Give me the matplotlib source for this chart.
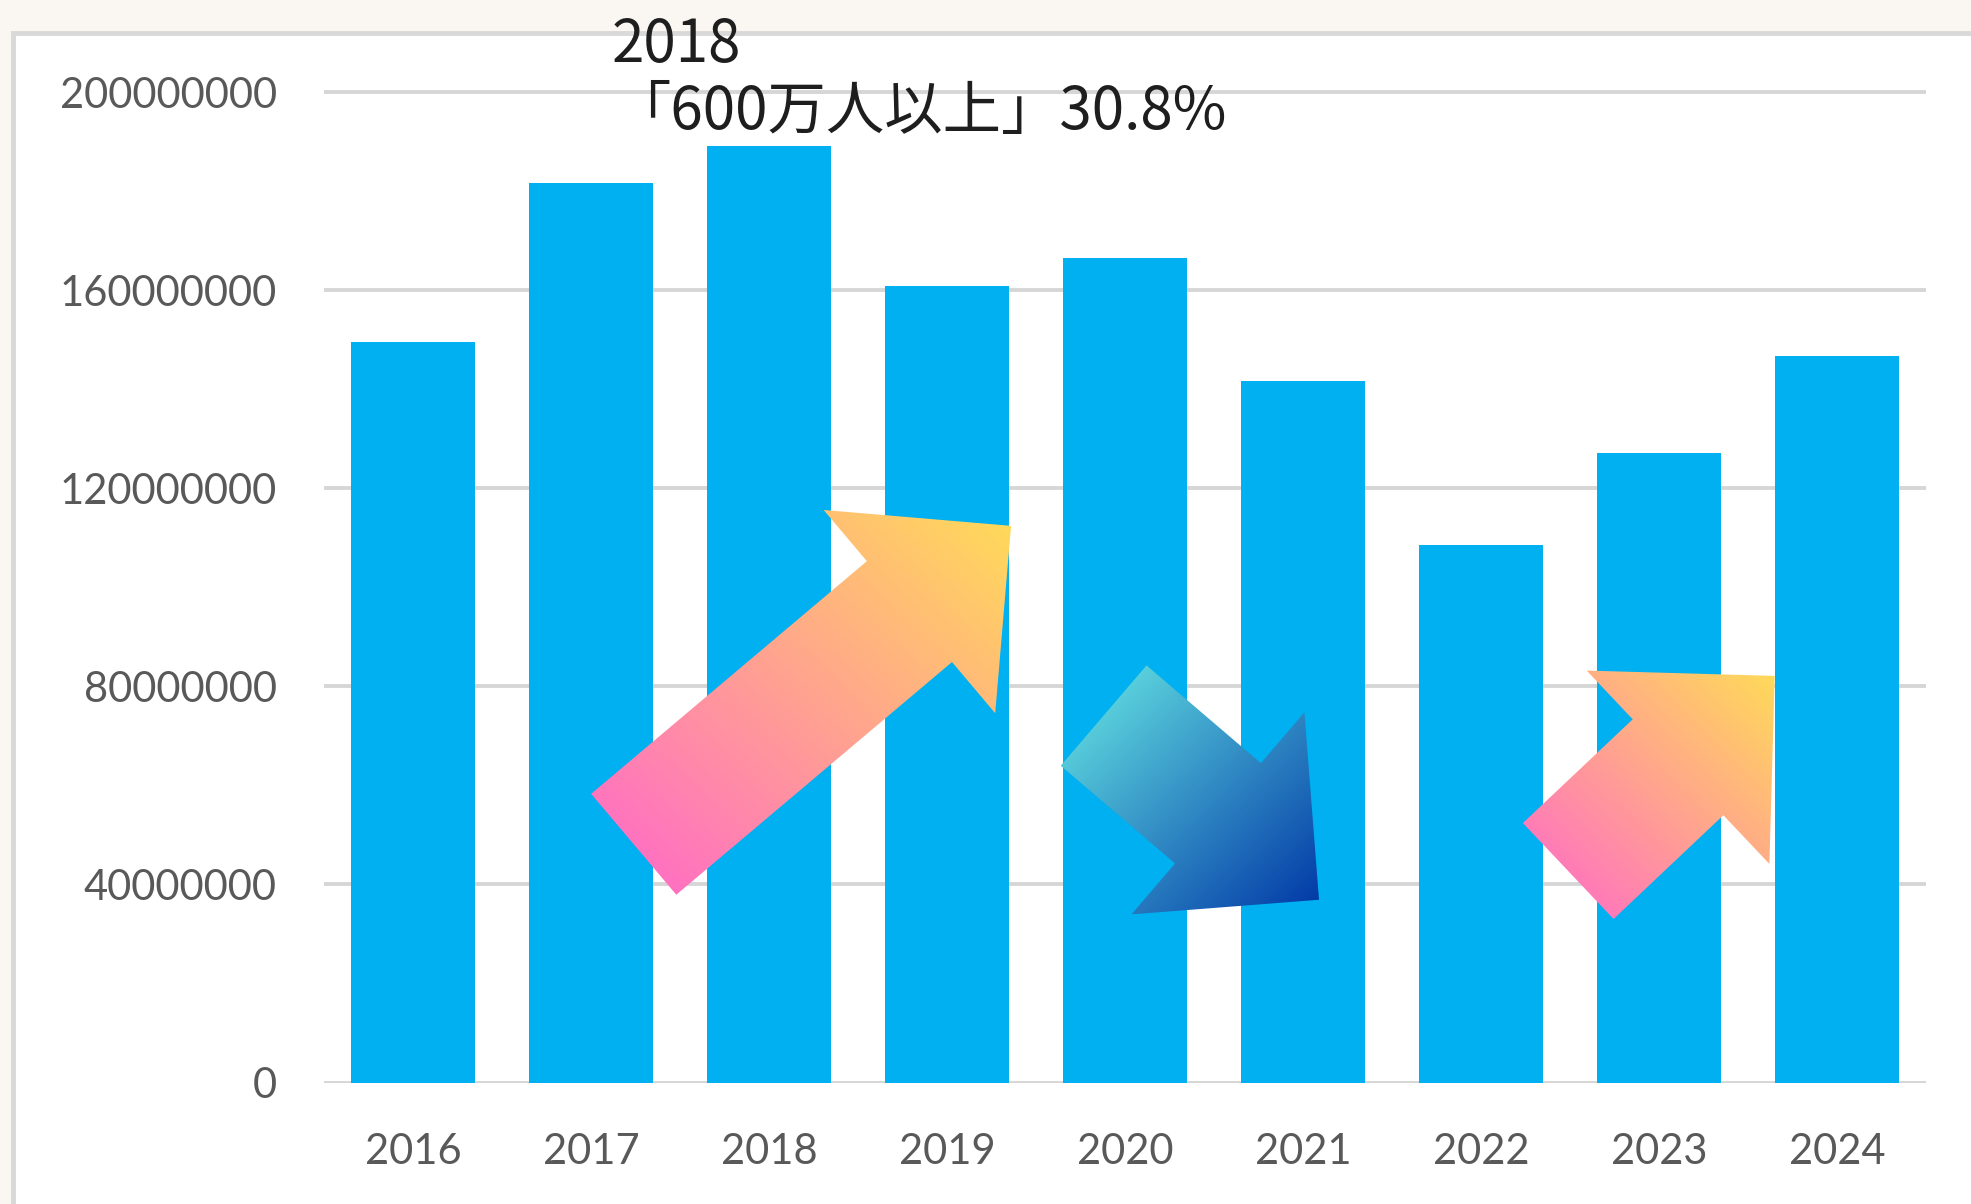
import numpy as np
import matplotlib
matplotlib.use('Agg')
import matplotlib.pyplot as plt
from matplotlib.patches import Rectangle, Polygon
from matplotlib.colors import LinearSegmentedColormap

# datos del grafico
years = ['2016', '2017', '2018', '2019', '2020', '2021', '2022', '2023', '2024']
values = [149.5e6, 181.7e6, 189.1e6, 160.9e6, 166.5e6, 141.6e6, 108.6e6, 127.2e6, 146.7e6]
yticks = [0, 40000000, 80000000, 120000000, 160000000, 200000000]
title = '2018\n「600万人以上」30.8%'

# flechas decorativas (cola y punta en coordenadas de datos)
arrow_tails = [(1.24, 48.1e6), (3.88, 74.1e6), (6.49, 42.7e6)]
arrow_tips = [(3.36, 112.4e6), (5.09, 36.9e6), (7.65, 82.1e6)]
arrow_colors = [('#FF66CC', '#FFDB58'), ('#6AEDE6', '#0036A6'), ('#FF66CC', '#FFDB58')]
arrow_dirs = ['up', 'down', 'up']

W, H = 1971, 1204
fig = plt.figure(figsize=(W / 100, H / 100), dpi=100)
fig.patch.set_facecolor('#FAF7F2')

# panel blanco con borde gris
fig.patches.append(Rectangle((13 / W, -0.1), 1.2, (H - 33) / H + 0.1, transform=fig.transFigure,
                             facecolor='white', edgecolor='#D9D9D9', linewidth=3.5, zorder=-1))

y0_px, px_per_m = 1082.5, 4.9525
ymax = 205e6
top_px = y0_px - ymax / 1e6 * px_per_m
ax = fig.add_axes([324 / W, (H - y0_px) / H, (1926 - 324) / W, (y0_px - top_px) / H])
ax.patch.set_alpha(0)

x = np.arange(len(years))
ax.bar(x, values, width=0.70, color='#00B0F0')
ax.set_xlim(-0.5, len(years) - 0.5)
ax.set_ylim(0, ymax)
ax.set_yticks(yticks)
ax.set_yticklabels([str(v) for v in yticks])
ax.set_xticks(x)
ax.set_xticklabels(years)
ax.set_axisbelow(True)
ax.yaxis.grid(True, color='#D6D6D6', linewidth=2.8)
for s in ax.spines.values():
    s.set_visible(False)
ax.tick_params(axis='both', length=0, labelsize=30, labelcolor='#595959')
ax.tick_params(axis='y', pad=34)
ax.tick_params(axis='x', pad=36)
for lab in ax.get_xticklabels() + ax.get_yticklabels():
    lab.set_fontfamily('Lato')

# capa para las flechas en pixeles
ov = fig.add_axes([0, 0, 1, 1])
ov.patch.set_alpha(0)
ov.axis('off')

sw, hw, hl = 132, 266, 133
for tail, tip, cols, dr in zip(arrow_tails, arrow_tips, arrow_colors, arrow_dirs):
    T = ax.transData.transform(tail)
    P = ax.transData.transform(tip)
    d = (P - T) / np.linalg.norm(P - T)
    n = np.array([-d[1], d[0]])
    neck = P - d * hl
    pts = [T + n * sw / 2, neck + n * sw / 2, neck + n * hw / 2, P,
           neck - n * hw / 2, neck - n * sw / 2, T - n * sw / 2]
    pts = np.array(pts)
    poly = Polygon(pts, closed=True, facecolor='none', edgecolor='none')
    ov.add_patch(poly)
    xa, xb = pts[:, 0].min(), pts[:, 0].max()
    ya, yb = pts[:, 1].min(), pts[:, 1].max()
    gx, gy = np.meshgrid(np.linspace(0, 1, 200), np.linspace(0, 1, 200))
    if dr == 'up':
        g = (gx + gy) / 2
    else:
        g = (gx + (1 - gy)) / 2
    cmap = LinearSegmentedColormap.from_list('g', list(cols))
    im = ov.imshow(g, cmap=cmap, extent=[xa, xb, ya, yb], origin='lower',
                   aspect='auto', interpolation='bilinear')
    im.set_clip_path(poly)

ov.set_xlim(0, W)
ov.set_ylim(0, H)

fig.text(612 / W, 1 - 15 / H, title, ha='left', va='top', fontsize=42,
         color='#1E1E1E', family=['Noto Sans CJK JP', 'DejaVu Sans'], linespacing=1.12)

fig.savefig('out.png', dpi=100, facecolor=fig.get_facecolor())
